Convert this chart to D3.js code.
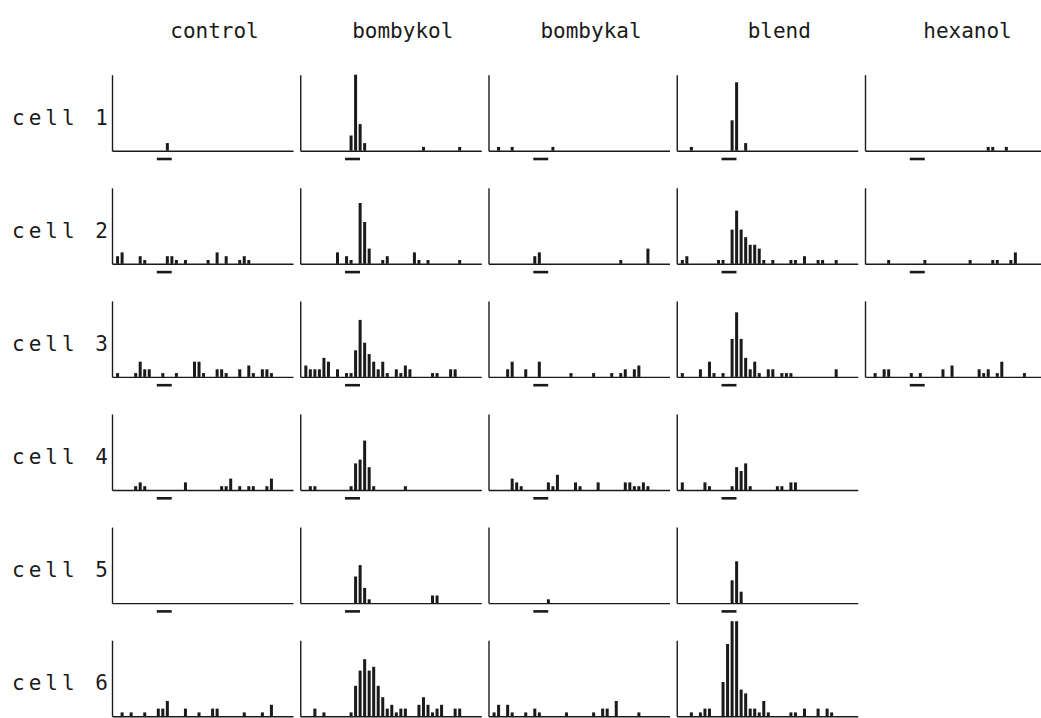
<!DOCTYPE html>
<html>
<head>
<meta charset="utf-8">
<script src="https://cdn.jsdelivr.net/npm/d3@7"></script>
<style>
body { margin: 0; background: #fff; }
text { font-family: "DejaVu Sans Mono", monospace; fill: #1a1a1a; }
</style>
</head>
<body>
<svg id="chart" width="1041" height="718"></svg>
<script>
// column / row labels
var stimuli = ["control", "bombykol", "bombykal", "blend", "hexanol"]
var cellNames = ["cell 1", "cell 2", "cell 3", "cell 4", "cell 5", "cell 6"]

// stimulus period, in bins
var stimOn = 9, stimOff = 12.3

// spike counts per bin, [bin, count], one list per stimulus
var cell1 = [
    [[11, 2]],
    [[10, 4], [11, 20], [12, 7], [13, 2], [26, 1], [34, 1]],
    [[1, 1], [4, 1], [13, 1]],
    [[2, 1], [11, 8], [12, 18], [14, 2]],
    [[26, 1], [27, 1], [30, 1]]
]
var cell2 = [
    [[0, 2], [1, 3], [5, 2], [6, 1], [11, 2], [12, 2], [13, 1], [15, 1], [20, 1], [22, 3], [24, 2], [27, 1], [28, 2], [29, 1]],
    [[7, 3], [9, 2], [10, 1], [12, 16], [13, 11], [14, 4], [17, 1], [18, 2], [24, 3], [25, 1], [27, 1], [34, 1]],
    [[9, 2], [10, 3], [28, 1], [34, 4]],
    [[0, 1], [1, 2], [8, 1], [9, 1], [11, 9], [12, 14], [13, 9], [14, 7], [15, 5], [16, 5], [17, 4], [18, 1], [20, 1], [24, 1], [25, 1], [27, 2], [30, 1], [31, 1], [34, 1]],
    [[4, 1], [12, 1], [22, 1], [27, 1], [28, 1], [31, 1], [32, 3]]
]
var cell3 = [
    [[0, 1], [4, 1], [5, 4], [6, 2], [7, 2], [10, 1], [13, 1], [17, 4], [18, 4], [19, 1], [22, 2], [23, 2], [24, 1], [27, 2], [29, 3], [30, 1], [32, 2], [33, 2], [34, 1]],
    [[0, 3], [1, 2], [2, 2], [3, 2], [4, 5], [5, 4], [7, 2], [9, 1], [10, 1], [11, 7], [12, 15], [13, 9], [14, 6], [15, 4], [16, 2], [17, 4], [18, 1], [20, 2], [21, 1], [22, 3], [23, 2], [28, 1], [29, 1], [32, 2], [33, 2]],
    [[3, 2], [4, 4], [7, 2], [10, 4], [17, 1], [22, 1], [26, 1], [28, 1], [29, 2], [31, 2], [32, 3]],
    [[0, 1], [4, 2], [6, 4], [7, 1], [9, 1], [11, 10], [12, 17], [13, 10], [14, 5], [15, 2], [16, 4], [17, 1], [19, 2], [20, 2], [22, 1], [23, 1], [24, 1], [34, 2]],
    [[1, 1], [3, 2], [4, 2], [9, 1], [11, 1], [16, 2], [18, 3], [24, 2], [25, 1], [26, 2], [28, 1], [29, 4], [34, 1]]
]
var cell4 = [
    [[4, 1], [5, 2], [6, 1], [15, 2], [23, 1], [24, 1], [25, 3], [27, 1], [29, 1], [30, 1], [33, 1], [34, 3]],
    [[1, 1], [2, 1], [10, 1], [11, 7], [12, 8], [13, 13], [14, 6], [15, 1], [22, 1]],
    [[4, 3], [5, 2], [6, 1], [12, 2], [13, 1], [14, 4], [18, 2], [19, 1], [23, 2], [29, 2], [30, 2], [31, 1], [32, 1], [33, 2], [34, 1]],
    [[0, 2], [5, 2], [6, 1], [11, 1], [12, 6], [13, 5], [14, 7], [15, 1], [21, 1], [22, 1], [24, 2], [25, 2]]
]
var cell5 = [
    [],
    [[11, 7], [12, 10], [13, 4], [14, 1], [28, 2], [29, 2]],
    [[12, 1]],
    [[11, 6], [12, 11], [13, 3]]
]
var cell6 = [
    [[1, 1], [3, 1], [6, 1], [9, 2], [10, 2], [11, 4], [15, 2], [18, 1], [21, 2], [22, 2], [28, 1], [32, 1], [34, 3]],
    [[2, 2], [4, 1], [10, 1], [11, 8], [12, 12], [13, 15], [14, 12], [15, 13], [16, 8], [17, 5], [18, 2], [19, 3], [20, 1], [21, 2], [22, 2], [25, 3], [26, 5], [27, 3], [28, 1], [29, 2], [30, 3], [33, 2], [34, 2]],
    [[0, 1], [1, 3], [3, 3], [4, 1], [7, 1], [9, 2], [10, 1], [16, 1], [22, 1], [24, 2], [25, 2], [27, 4], [32, 1]],
    [[2, 1], [4, 1], [5, 2], [6, 2], [9, 9], [10, 19], [11, 25], [12, 25], [13, 7], [14, 6], [15, 2], [16, 2], [17, 1], [18, 4], [19, 1], [24, 1], [25, 1], [27, 2], [30, 2], [32, 2], [33, 1]]
]

var counts = [cell1, cell2, cell3, cell4, cell5, cell6]

var panelW = 181,
    panelH = 76,
    left0 = 112,
    colStep = 188.25,
    top0 = 74.7,
    rowStep = 113.1,
    barW = 3

var svg = d3.select("#chart")

var x = d3.scaleLinear()
    .domain([-0.9, 39.1])
    .range([0, panelW])

var y = d3.scaleLinear()
    .domain([0, 20])
    .range([panelH, 0])

// column headers
svg.selectAll(".col-label")
    .data(stimuli)
    .enter().append("text")
    .attr("class", "col-label")
    .attr("x", function(d, i) { return left0 + i * colStep + panelW / 2 + 12 })
    .attr("y", 38)
    .attr("text-anchor", "middle")
    .style("font-size", "21px")
    .text(function(d) { return d })

// row labels
svg.selectAll(".row-label")
    .data(cellNames)
    .enter().append("text")
    .attr("class", "row-label")
    .attr("x", 12)
    .attr("y", function(d, i) { return top0 + i * rowStep + panelH / 2 + 12 })
    .style("font-size", "21px")
    .style("letter-spacing", "4px")
    .text(function(d) { return d })

counts.forEach(function(row, r) {
    row.forEach(function(bins, c) {
        var g = svg.append("g")
            .attr("class", "panel")
            .attr("transform", "translate(" + (left0 + c * colStep) + "," + (top0 + r * rowStep) + ")")

        g.selectAll(".bar")
            .data(bins)
            .enter().append("rect")
            .attr("class", "bar")
            .attr("x", function(d) { return x(d[0]) })
            .attr("width", barW)
            .attr("y", function(d) { return y(d[1]) })
            .attr("height", function(d) { return panelH - y(d[1]) })
            .style("fill", "#1a1a1a")

        var yAxis = d3.axisLeft(y).tickValues([]).tickSizeOuter(0)
        var xAxis = d3.axisBottom(x).tickValues([]).tickSizeOuter(0)

        g.append("g")
            .attr("class", "y axis")
            .call(yAxis)

        g.append("g")
            .attr("class", "x axis")
            .attr("transform", "translate(0," + panelH + ")")
            .call(xAxis)

        g.selectAll(".axis path")
            .style("stroke", "#1a1a1a")
            .style("stroke-width", "1.4px")

        // stimulus marker
        g.append("rect")
            .attr("x", x(stimOn))
            .attr("width", x(stimOff) - x(stimOn))
            .attr("y", panelH + 7)
            .attr("height", 2.6)
            .style("fill", "#1a1a1a")
    })
})
</script>
</body>
</html>
